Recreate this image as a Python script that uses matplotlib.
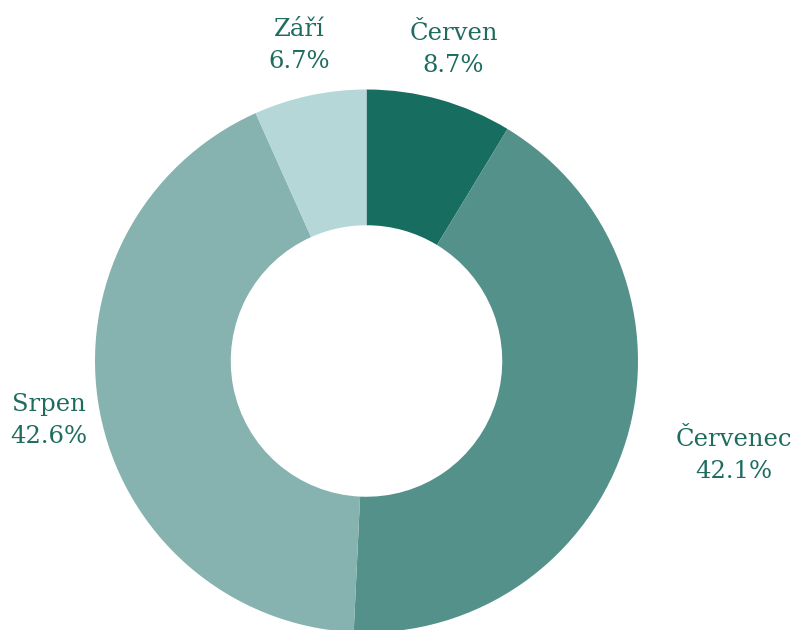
import numpy as np
import matplotlib
matplotlib.use("Agg")
import matplotlib.pyplot as plt

months = ["Červen", "Červenec", "Srpen", "Září"]
shares = [8.7, 42.1, 42.6, 6.7]
colors = ["#176d60", "#54918a", "#86b3af", "#b5d7d7"]
label_ha = ["center", "left", "center", "center"]
TXT = "#1e6b5f"

W, H = 799, 630
fig = plt.figure(figsize=(W / 100, H / 100), dpi=100)
ax = fig.add_axes([0, 0, 1, 1])

cx, cy, R = 366.5, H - 361, 271.5
wedges, _ = ax.pie(shares, colors=colors, startangle=90, counterclock=False,
                   center=(cx, cy), radius=R, frame=True,
                   wedgeprops=dict(width=R * 0.5, linewidth=0))
ax.set_xlim(0, W)
ax.set_ylim(0, H)
ax.set_aspect("equal")
ax.axis("off")

total = sum(shares)
rl = R * 1.19
for w, name, v, ha in zip(wedges, months, shares, label_ha):
    mid = np.deg2rad((w.theta1 + w.theta2) / 2)
    x, y = cx + rl * np.cos(mid), cy + rl * np.sin(mid)
    ax.text(x, y, f"{name}\n{v / total * 100:.1f}%", ha=ha, va="center",
            multialignment="center", fontsize=17.5, color=TXT,
            family="DejaVu Serif", linespacing=1.5)

fig.savefig("out.png", dpi=100)
